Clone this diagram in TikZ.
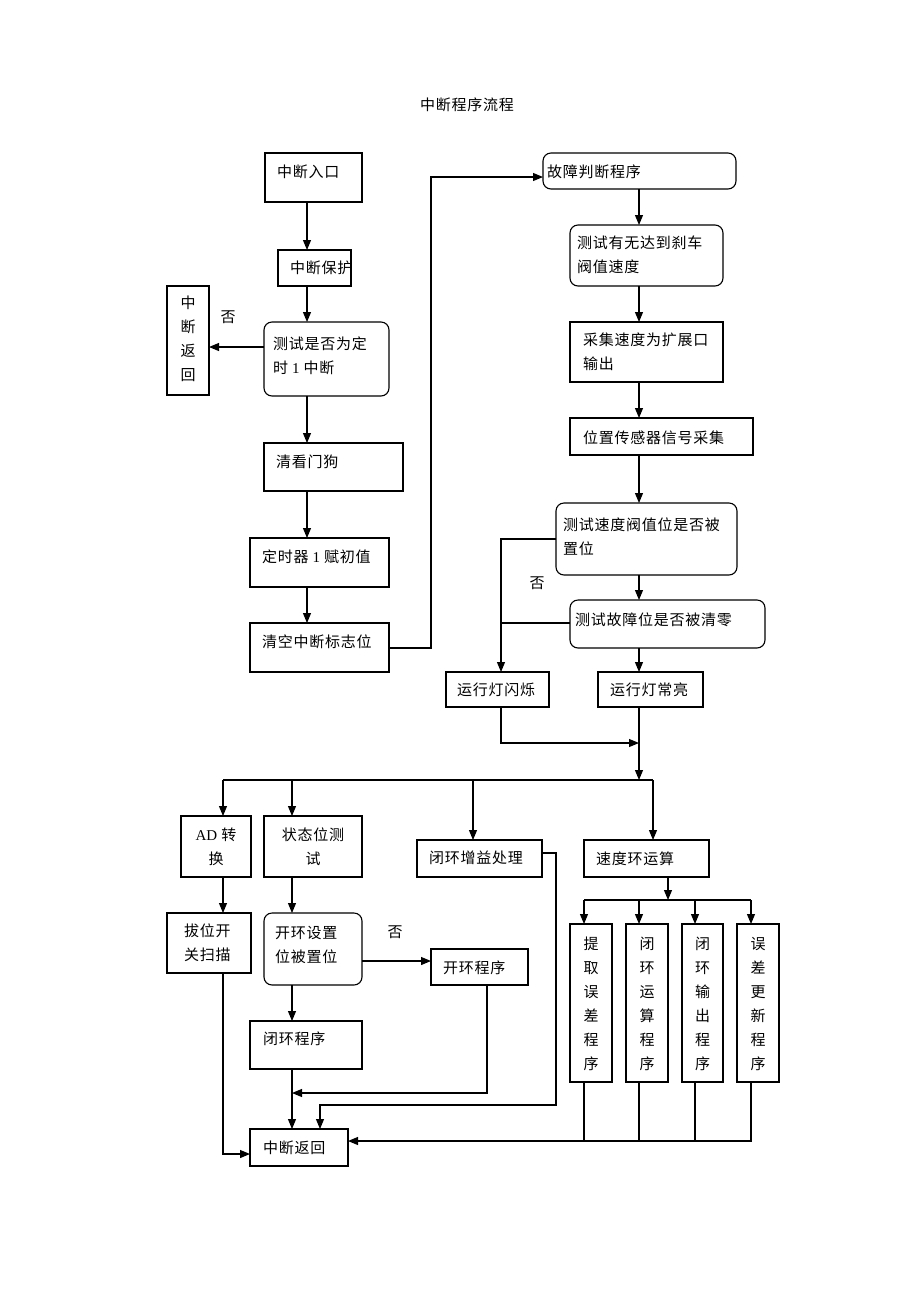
\documentclass[tikz,border=0pt]{standalone}
\usepackage{fontspec}
\setmainfont{Liberation Serif}
\newfontfamily\cjk[LetterSpace=5]{Noto Sans CJK SC}
\usetikzlibrary{arrows.meta}
\newcommand{\bx}[6]{\node[#6, minimum width={(#4-#2)*1pt}, minimum height={(#5-#3)*1pt}] (#1) at ({(#2+#4)/2},{(#3+#5)/2}) {};}
\begin{document}
\begin{tikzpicture}[x=1pt,y=-1pt,
  every node/.style={inner sep=0pt, outer sep=0pt, font=\fontsize{15}{24}\selectfont\cjk},
  box/.style={draw, line width=1.1pt},
  rbox/.style={box, rounded corners=8pt},
  lnk/.style={line width=1.1pt},
  arr/.style={lnk, -{Triangle[length=10pt,width=8pt]}},
  txt/.style={anchor=west, align=left},
  vtxt/.style={align=center},
]
\useasboundingbox (0,0) rectangle (920,1302);
\node (title) at (467,105) {中断程序流程};
% left column
\bx{n1}{265}{153}{362}{202}{box}
\node[txt] (t1) at (277,172) {中断入口};
\bx{n2}{278}{250}{351}{286}{box}
\node[txt] (t2) at (290,268) {中断保护};
\bx{n3}{264}{322}{389}{396}{rbox}
\node[txt] (t3) at (273,356) {测试是否为定\\时 {\rmfamily 1} 中断};
\bx{n4}{167}{286}{209}{395}{box}
\node[vtxt] (t4) at (188,339) {中\\断\\返\\回};
\node (no1) at (228,317) {否};
\bx{n5}{264}{443}{403}{491}{box}
\node[txt] (t5) at (276,462) {清看门狗};
\bx{n6}{250}{538}{389}{587}{box}
\node[txt] (t6) at (262,557) {定时器 {\rmfamily 1} 赋初值};
\bx{n7}{250}{623}{389}{672}{box}
\node[txt] (t7) at (262,642) {清空中断标志位};
% right column
\bx{n8}{543}{153}{736}{189}{rbox}
\node[txt] (t8) at (547,172) {故障判断程序};
\bx{n9}{570}{225}{723}{286}{rbox}
\node[txt] (t9) at (577,255) {测试有无达到刹车\\阀值速度};
\bx{n10}{570}{322}{723}{382}{box}
\node[txt] (t10) at (583,352) {采集速度为扩展口\\输出};
\bx{n11}{570}{418}{753}{455}{box}
\node[txt] (t11) at (583,438) {位置传感器信号采集};
\bx{n12}{556}{503}{737}{575}{rbox}
\node[txt] (t12) at (563,537) {测试速度阀值位是否被\\置位};
\node (no2) at (537,583) {否};
\bx{n13}{570}{600}{765}{648}{rbox}
\node[txt] (t13) at (575,620) {测试故障位是否被清零};
\bx{n14}{446}{672}{549}{707}{box}
\node[txt] (t14) at (457,690) {运行灯闪烁};
\bx{n15}{598}{672}{703}{707}{box}
\node[txt] (t15) at (610,690) {运行灯常亮};
% lower part
\bx{n16}{181}{816}{251}{877}{box}
\node[vtxt] (t16) at (216,847) {{\rmfamily AD} 转\\换};
\bx{n17}{264}{816}{362}{877}{box}
\node[vtxt] (t17) at (313,847) {状态位测\\试};
\bx{n18}{417}{840}{542}{877}{box}
\node[txt] (t18) at (429,858) {闭环增益处理};
\bx{n19}{584}{840}{709}{877}{box}
\node[txt] (t19) at (596,859) {速度环运算};
\bx{n20}{167}{913}{251}{973}{box}
\node[txt] (t20) at (184,943) {拔位开\\关扫描};
\bx{n21}{264}{913}{362}{985}{rbox}
\node[txt] (t21) at (275,945) {开环设置\\位被置位};
\node (no3) at (395,932) {否};
\bx{n22}{431}{949}{528}{985}{box}
\node[txt] (t22) at (443,968) {开环程序};
\bx{n23}{250}{1021}{362}{1069}{box}
\node[txt] (t23) at (263,1039) {闭环程序};
\bx{n24}{250}{1129}{348}{1166}{box}
\node[txt] (t24) at (263,1148) {中断返回};
\bx{p1}{570}{924}{612}{1082}{box}
\node[vtxt] (tp1) at (591,1004) {提\\取\\误\\差\\程\\序};
\bx{p2}{626}{924}{668}{1082}{box}
\node[vtxt] (tp2) at (647,1004) {闭\\环\\运\\算\\程\\序};
\bx{p3}{682}{924}{723}{1082}{box}
\node[vtxt] (tp3) at (702.5,1004) {闭\\环\\输\\出\\程\\序};
\bx{p4}{737}{924}{779}{1082}{box}
\node[vtxt] (tp4) at (758,1004) {误\\差\\更\\新\\程\\序};
% connectors
\coordinate (xa) at (307,0);
\draw[arr] (n1.south -| xa) -- (n2.north -| xa);
\draw[arr] (n2.south -| xa) -- (n3.north -| xa);
\coordinate (ya) at (0,347);
\draw[arr] (n3.west |- ya) -- (n4.east |- ya);
\draw[arr] (n3.south -| xa) -- (n5.north -| xa);
\draw[arr] (n5.south -| xa) -- (n6.north -| xa);
\draw[arr] (n6.south -| xa) -- (n7.north -| xa);
\coordinate (jb1) at (431,648);
\coordinate (jb2) at (431,177);
\draw[arr] (n7.east |- jb1) -- (jb1) -- (jb2) -- (n8.west |- jb2);
\coordinate (xb) at (639,0);
\draw[arr] (n8.south -| xb) -- (n9.north -| xb);
\draw[arr] (n9.south -| xb) -- (n10.north -| xb);
\draw[arr] (n10.south -| xb) -- (n11.north -| xb);
\draw[arr] (n11.south -| xb) -- (n12.north -| xb);
\draw[arr] (n12.south -| xb) -- (n13.north -| xb);
\draw[arr] (n13.south -| xb) -- (n15.north -| xb);
\coordinate (jc1) at (501,539);
\draw[arr] (n12.west |- jc1) -- (jc1) -- (n14.north -| jc1);
\coordinate (jc2) at (501,623);
\draw[lnk] (n13.west |- jc2) -- (jc2);
\coordinate (jd) at (501,743);
\coordinate (je) at (639,743);
\draw[arr] (n14.south -| jd) -- (jd) -- (je);
\coordinate (bus1) at (639,780);
\draw[arr] (n15.south -| xb) -- (bus1);
\coordinate (busL) at (223,780);
\coordinate (busR) at (653,780);
\draw[lnk] (busL) -- (busR);
\draw[arr] (busL) -- (n16.north -| busL);
\coordinate (bus2) at (292,780);
\draw[arr] (bus2) -- (n17.north -| bus2);
\coordinate (bus3) at (473,780);
\draw[arr] (bus3) -- (n18.north -| bus3);
\draw[arr] (busR) -- (n19.north -| busR);
\draw[arr] (n16.south -| busL) -- (n20.north -| busL);
\coordinate (jf) at (223,1154);
\draw[arr] (n20.south -| jf) -- (jf) -- (n24.west |- jf);
\draw[arr] (n17.south -| bus2) -- (n21.north -| bus2);
\coordinate (yg) at (0,961);
\draw[arr] (n21.east |- yg) -- (n22.west |- yg);
\draw[arr] (n21.south -| bus2) -- (n23.north -| bus2);
\draw[arr] (n23.south -| bus2) -- (n24.north -| bus2);
\coordinate (jh) at (487,1093);
\coordinate (jh2) at (292,1093);
\draw[arr] (n22.south -| jh) -- (jh) -- (jh2);
\coordinate (ji1) at (556,853);
\coordinate (ji2) at (556,1105);
\coordinate (ji3) at (320,1105);
\draw[arr] (n18.east |- ji1) -- (ji1) -- (ji2) -- (ji3) -- (n24.north -| ji3);
\coordinate (bus4) at (668,900);
\draw[arr] (n19.south -| bus4) -- (bus4);
\coordinate (b4L) at (584,900);
\coordinate (b4b) at (639,900);
\coordinate (b4c) at (695,900);
\coordinate (b4R) at (751,900);
\draw[lnk] (b4L) -- (b4R);
\draw[arr] (b4L) -- (p1.north -| b4L);
\draw[arr] (b4b) -- (p2.north -| b4b);
\draw[arr] (b4c) -- (p3.north -| b4c);
\draw[arr] (b4R) -- (p4.north -| b4R);
\coordinate (r1) at (584,1141);
\coordinate (r2) at (639,1141);
\coordinate (r3) at (695,1141);
\coordinate (r4) at (751,1141);
\draw[lnk] (p1.south -| r1) -- (r1);
\draw[lnk] (p2.south -| r2) -- (r2);
\draw[lnk] (p3.south -| r3) -- (r3);
\draw[arr] (p4.south -| r4) -- (r4) -- (n24.east |- r4);
\end{tikzpicture}
\end{document}
